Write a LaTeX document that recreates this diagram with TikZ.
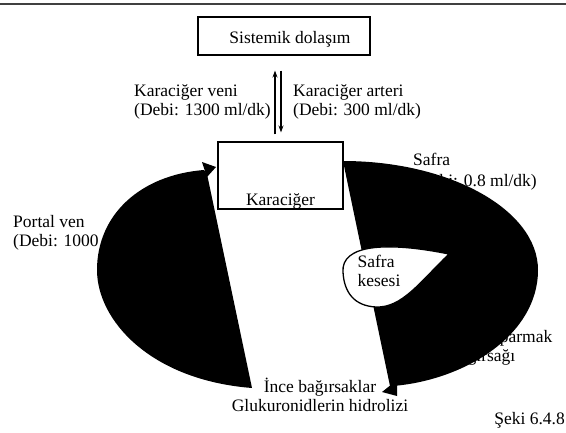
\documentclass[tikz,border=0pt]{standalone}
\usepackage{fontspec}
\setmainfont{Liberation Serif}
\usetikzlibrary{positioning,arrows.meta}

\begin{document}
\begin{tikzpicture}[x=1pt,y=-1pt,every node/.style={font=\fontsize{17.5}{19}\selectfont,inner sep=0pt},
        organ/.style={draw,fill=white,line width=1.1pt},
        lbl/.style={align=left},
        akim/.style={fill=black}]
        \useasboundingbox (0,0) rectangle (566,432);
        \draw[line width=2pt,black!75] (0,4) -- (566,4);
        % texts partly hidden by the black flows
        \node[lbl,anchor=west] (portal) at (13,233) {Portal ven\\(Debi: 1000 ml/dk)};
        \node[anchor=base west] (safra) at (413,165) {Safra};
        \node[anchor=base east] (safradebi) at (537,186) {(Debi: 0.8 ml/dk)};
        \node[lbl,anchor=base west] (oniki) at (451,361) {On iki parmak\\bağırsağı};
        % black flows
        \fill[akim] (207,174) -- (252,388) .. controls (150,380) and (97,320) .. (97,270)
            .. controls (97,215) and (140,175) .. (204,170) -- cycle;
        \fill[akim] (202,162) -- (216,167) -- (207,177) -- cycle;
        \fill[akim] (343,161) .. controls (450,161) and (538,210) .. (538,270)
            .. controls (538,335) and (465,380) .. (393,386) -- (390,386) -- cycle;
        \fill[akim] (397,380) -- (382,392) -- (397,396) -- cycle;
        \draw[organ,line width=1.3pt] (343,272) .. controls (341,245) and (385,241) .. (449,254)
            .. controls (420,282) and (402,308) .. (376,307)
            .. controls (354,306) and (344,292) .. (343,272) -- cycle;
        \node[lbl] (kese) at (379,271) {Safra\\kesesi};
        % boxes
        \node[organ,minimum width=172pt,minimum height=38pt] (sis) at (284,36) {};
        \node (sistxt) at ([xshift=6pt,yshift=-3pt]sis.center) {Sistemik dolaşım};
        \node[organ,minimum width=125pt,minimum height=67pt] (kar) at (280.5,175.5) {};
        \node[anchor=base] (kartxt) at ([yshift=4pt]kar.south) {Karaciğer};
        \draw[line width=1.2pt,-{Stealth[length=7pt,width=5pt]}] ([xshift=-5.5pt,yshift=7pt]kar.north) -- ([xshift=-9pt,yshift=-15pt]sis.south);
        \draw[line width=1.2pt,-{Stealth[length=7pt,width=5pt]}] ([xshift=-3pt,yshift=-15pt]sis.south) -- ([xshift=0.5pt,yshift=9pt]kar.north);
        \node[lbl,anchor=east] (veni) at (271,102) {Karaciğer veni\\(Debi: 1300 ml/dk)};
        \node[lbl,anchor=west] (arter) at (293,102) {Karaciğer arteri\\(Debi: 300 ml/dk)};
        \node[align=center,anchor=base] (ince) at (320,411) {İnce bağırsaklar\\Glukuronidlerin hidrolizi};
        \node[anchor=base east] (sekil) at (565,424) {Şeki 6.4.8};
    \end{tikzpicture}
\end{document}
